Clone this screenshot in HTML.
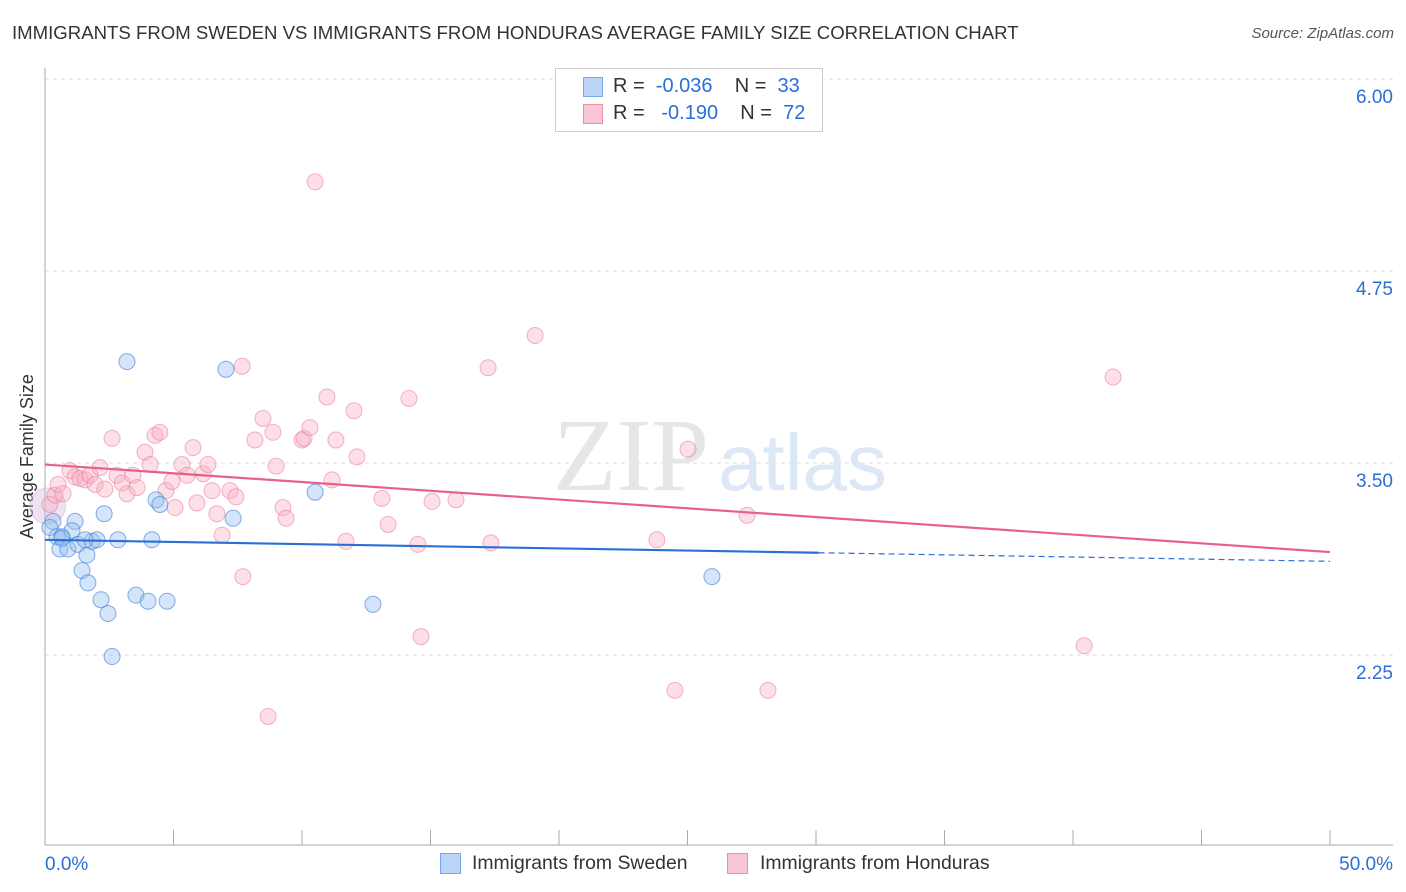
<!DOCTYPE html>
<html><head><meta charset="utf-8"><style>
body{margin:0;background:#fff;font-family:"Liberation Sans",sans-serif;}
#wrap{position:relative;width:1406px;height:892px;overflow:hidden;}
.t{position:absolute;white-space:nowrap;}
</style></head><body>
<div id="wrap">
<div class="t" style="left:12px;top:22px;font-size:18.6px;color:#333;">IMMIGRANTS FROM SWEDEN VS IMMIGRANTS FROM HONDURAS AVERAGE FAMILY SIZE CORRELATION CHART</div>
<div class="t" style="right:12px;top:25px;font-size:15px;color:#555;font-style:italic;">Source: ZipAtlas.com</div>
<div class="t" style="left:-55px;top:446px;font-size:18px;color:#333;transform:rotate(-90deg);">Average Family Size</div>
<svg id="svg" width="1406" height="892" style="position:absolute;left:0;top:0"></svg>
<div style="position:absolute;left:555px;top:68px;width:266px;height:62px;border:1px solid #ccc;background:#fff;font-size:20px;">
 <div style="position:absolute;left:27px;top:8px;width:18px;height:18px;background:#bcd4f5;border:1px solid #7aa6e6"></div>
 <div class="t" style="left:57px;top:6px;color:#333">R =&nbsp;&nbsp;<span style="color:#2a6fd6">-0.036</span>&nbsp;&nbsp;&nbsp;&nbsp;N =&nbsp;&nbsp;<span style="color:#2a6fd6">33</span></div>
 <div style="position:absolute;left:27px;top:35px;width:18px;height:18px;background:#f8c6d4;border:1px solid #ec8fa9"></div>
 <div class="t" style="left:57px;top:33px;color:#333">R =&nbsp;&nbsp;&nbsp;<span style="color:#2a6fd6">-0.190</span>&nbsp;&nbsp;&nbsp;&nbsp;N =&nbsp;&nbsp;<span style="color:#2a6fd6">72</span></div>
</div>
<div>
 <div style="position:absolute;left:440px;top:853px;width:19px;height:19px;background:#bcd4f5;border:1px solid #7aa6e6"></div>
 <div class="t" style="left:472px;top:852px;font-size:19.4px;color:#333">Immigrants from Sweden</div>
 <div style="position:absolute;left:727px;top:853px;width:19px;height:19px;background:#f8c6d4;border:1px solid #ec8fa9"></div>
 <div class="t" style="left:760px;top:852px;font-size:19.4px;color:#333">Immigrants from Honduras</div>
</div>
</div>
<script>
const yTicks=[6.00,4.75,3.50,2.25];
const xTickLabels=["0.0%","50.0%"];
const swedenX=[0.31,0.19,0.47,0.66,0.58,0.89,1.17,1.05,1.28,1.44,1.63,1.67,1.83,2.02,2.18,2.30,2.45,2.61,2.84,3.19,3.54,4.01,4.16,4.32,4.47,4.75,7.04,7.32,10.51,12.76,25.95,0.66,1.56];
const swedenY=[3.12,3.08,3.02,3.02,2.94,2.94,3.12,3.06,2.97,2.80,2.90,2.72,2.99,3.00,2.61,3.17,2.52,2.24,3.00,4.16,2.64,2.60,3.00,3.26,3.23,2.60,4.11,3.14,3.31,2.58,2.76,3.01,3.00];
const hondurasX=[0.19,0.39,0.51,0.70,0.97,1.17,1.36,1.56,1.75,1.95,2.14,2.33,2.61,2.80,3.00,3.19,3.42,3.58,3.89,4.09,4.28,4.47,4.71,4.94,5.06,5.33,5.53,5.76,5.91,6.15,6.34,6.50,6.69,6.89,7.20,7.43,7.67,7.70,8.17,8.48,8.68,8.87,8.99,9.26,9.38,10.00,10.08,10.31,10.51,10.97,11.17,11.32,11.71,12.02,12.14,13.11,13.35,14.16,14.51,14.63,15.06,15.99,17.24,17.35,19.07,23.81,24.51,25.02,27.32,28.13,40.43,41.56];
const hondurasY=[3.23,3.29,3.36,3.30,3.45,3.41,3.40,3.39,3.42,3.36,3.47,3.33,3.66,3.42,3.37,3.30,3.42,3.34,3.57,3.49,3.68,3.70,3.32,3.38,3.21,3.49,3.42,3.60,3.24,3.43,3.49,3.32,3.17,3.03,3.32,3.28,4.13,2.76,3.65,3.79,1.85,3.70,3.48,3.21,3.14,3.65,3.66,3.73,5.33,3.93,3.39,3.65,2.99,3.84,3.54,3.27,3.10,3.92,2.97,2.37,3.25,3.26,4.12,2.98,4.33,3.00,2.02,3.59,3.16,2.02,2.31,4.06];
const swedenTrend=[3.00,2.86];
const hondurasTrend=[3.49,2.92];
const NS="http://www.w3.org/2000/svg";
const svg=document.getElementById('svg');
const xs=v=>45+v*25.7;
const ys=v=>79+(6-v)*153.6;
function el(tag,a){const e=document.createElementNS(NS,tag);for(const k in a)e.setAttribute(k,a[k]);svg.appendChild(e);return e;}
yTicks.forEach((t,i)=>{const g=el('line',{x1:45,x2:1393,y1:ys(t),y2:ys(t),stroke:'#ddd','stroke-dasharray':'4,4'});


const tx=el('text',{x:1393,y:ys(t)+24,'text-anchor':'end','font-size':19,fill:'#2a6fd6','font-family':'Liberation Sans'});tx.textContent=t.toFixed(2);

});
const ax=el('line',{x1:45,x2:45,y1:68,y2:845,stroke:'#aaa'});


const bx=el('line',{x1:45,x2:1393,y1:845,y2:845,stroke:'#aaa'});


for(let i=0;i<=10;i++){const tk=el('line',{x1:xs(i*5),x2:xs(i*5),y1:830,y2:845,stroke:'#aaa'});

}
xTickLabels.forEach((l,i)=>{const t=el('text',{x:i?1393:45,y:870,'text-anchor':i?'end':'start','font-size':19,fill:'#2a6fd6','font-family':'Liberation Sans'});t.textContent=l;

});
const wm=el('text',{x:553,y:490,'font-size':104,'font-family':'Liberation Serif',fill:'#e6e6e6'});wm.textContent='ZIP';


const wm2=el('text',{x:718,y:490,'font-size':80,'font-family':'Liberation Sans',fill:'#dde8f6'});wm2.textContent='atlas';


const big=el('circle',{cx:xs(0.1),cy:ys(3.22),r:18,fill:'rgba(215,190,225,0.45)',stroke:'rgba(210,170,210,0.5)'});


hondurasX.forEach((x,i)=>{const c=el('circle',{cx:xs(x),cy:ys(hondurasY[i]),r:8,fill:'rgba(246,170,192,0.38)',stroke:'rgba(236,130,160,0.6)','stroke-width':1});

});
swedenX.forEach((x,i)=>{const c=el('circle',{cx:xs(x),cy:ys(swedenY[i]),r:8,fill:'rgba(150,190,240,0.4)',stroke:'rgba(70,130,220,0.65)','stroke-width':1});

});
const hy=x=>hondurasTrend[0]+(hondurasTrend[1]-hondurasTrend[0])*x/50;
const sy=x=>swedenTrend[0]+(swedenTrend[1]-swedenTrend[0])*x/50;
const hl=el('line',{x1:xs(0),y1:ys(hy(0)),x2:xs(50),y2:ys(hy(50)),stroke:'#e8608a','stroke-width':2.2});


const sl=el('line',{x1:xs(0),y1:ys(sy(0)),x2:xs(30.1),y2:ys(sy(30.1)),stroke:'#2a6fd6','stroke-width':2.2});


const sd=el('line',{x1:xs(30.1),y1:ys(sy(30.1)),x2:xs(50),y2:ys(sy(50)),stroke:'#2a6fd6','stroke-width':1.2,'stroke-dasharray':'6,4'});


</script>
</body></html>
